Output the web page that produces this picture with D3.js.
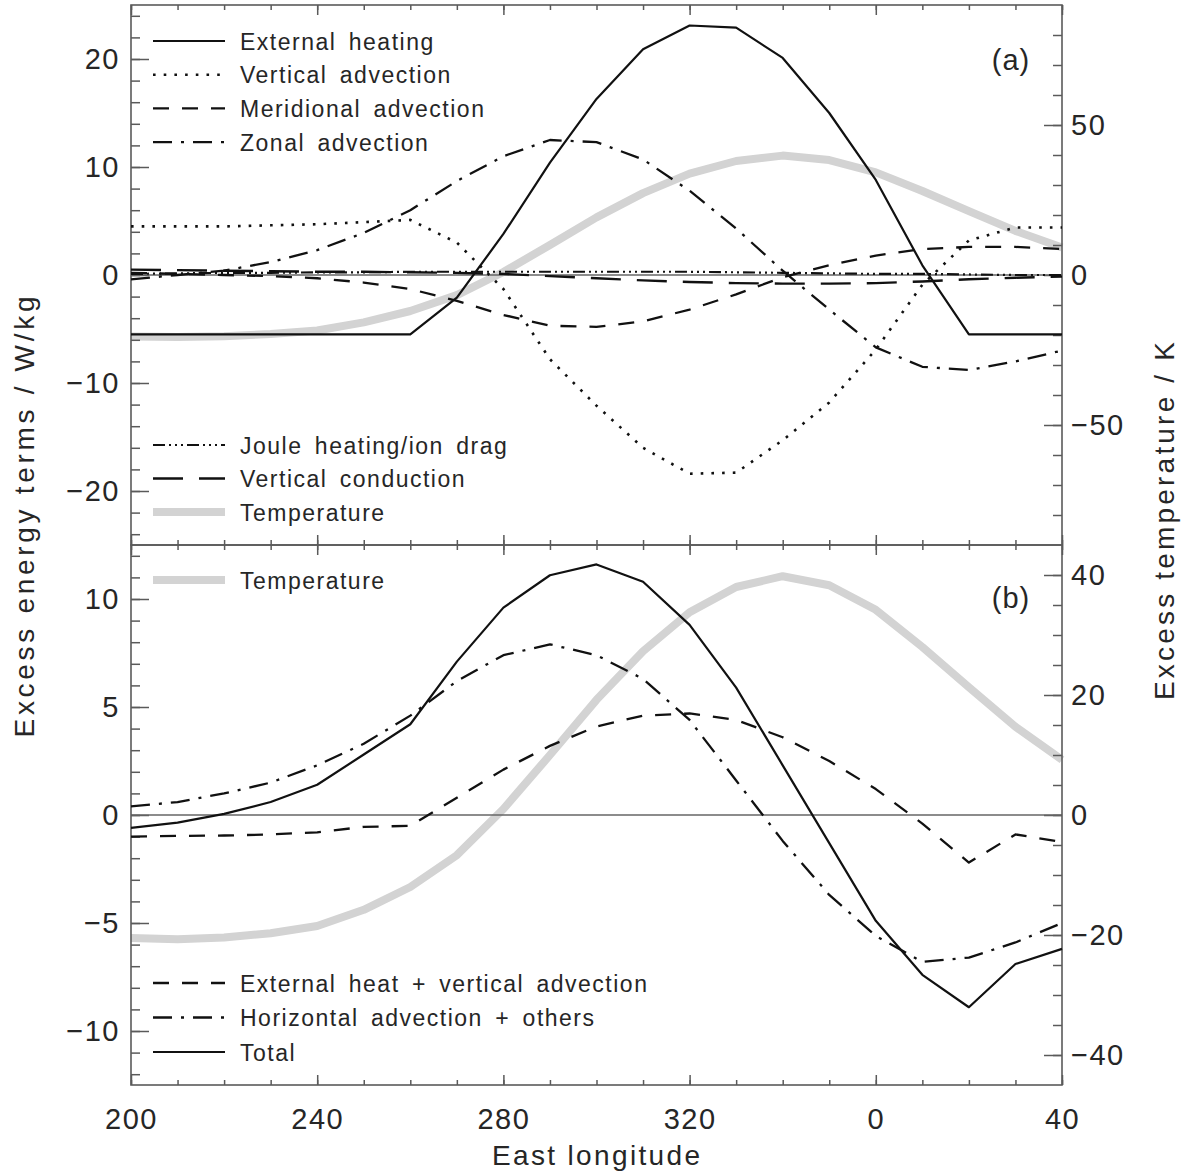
<!DOCTYPE html>
<html><head><meta charset="utf-8">
<script src="https://cdn.jsdelivr.net/npm/d3@7"></script>
<style>
body{margin:0;background:#fff}
svg{display:block}
text{font-family:"Liberation Sans",Arial,sans-serif;fill:#262626}
</style>
</head><body>
<svg id="c" width="1192" height="1173"></svg>
<script>
// ---------------- data ----------------
const longitude = [200,210,220,230,240,250,260,270,280,290,300,310,320,330,340,350,360,370,380,390,400];
const xTickValues = [200,240,280,320,360,400];
const xTickLabels = ["200","240","280","320","0","40"];

// panel (a) W/kg
const externalHeating    = [-5.5,-5.5,-5.5,-5.5,-5.5,-5.5,-5.5,-2.1,3.8,10.4,16.3,20.9,23.1,22.9,20.1,15.0,8.8,0.9,-5.5,-5.5,-5.5];
const verticalAdvection  = [4.5,4.5,4.5,4.6,4.7,4.9,5.1,3.0,-1.3,-7.8,-12.1,-16.0,-18.4,-18.3,-15.3,-11.8,-6.9,-0.9,3.2,4.4,4.4];
const meridionalAdvection= [0.2,0.1,0.0,-0.1,-0.3,-0.7,-1.3,-2.4,-3.7,-4.7,-4.8,-4.3,-3.2,-1.8,-0.2,0.9,1.8,2.4,2.6,2.6,2.4];
const zonalAdvection     = [-0.4,0.0,0.4,1.2,2.3,3.9,6.0,8.7,11.0,12.5,12.3,10.7,7.8,4.3,0.4,-3.2,-6.7,-8.5,-8.8,-8.0,-7.0];
const jouleHeating       = [0.1,0.15,0.2,0.2,0.25,0.25,0.3,0.3,0.3,0.3,0.3,0.3,0.3,0.25,0.2,0.15,0.1,0.1,0.05,0.0,0.0];
const verticalConduction = [0.5,0.45,0.4,0.35,0.3,0.3,0.25,0.2,0.1,-0.1,-0.3,-0.5,-0.65,-0.75,-0.8,-0.8,-0.75,-0.6,-0.4,-0.25,-0.15];
// temperature, K (both panels)
const temperature        = [-20.5,-20.7,-20.4,-19.7,-18.5,-15.8,-12.0,-6.7,1.0,10.0,19.2,27.3,33.8,38.0,39.8,38.3,34.2,28.0,21.3,14.7,9.2];
// panel (b) W/kg
const extHeatPlusVertAdv = [-1.0,-0.97,-0.95,-0.9,-0.8,-0.55,-0.5,0.8,2.1,3.2,4.1,4.6,4.7,4.4,3.6,2.5,1.2,-0.4,-2.2,-0.9,-1.25];
const horizAdvPlusOthers = [0.4,0.6,1.0,1.5,2.3,3.3,4.6,6.2,7.4,7.9,7.4,6.3,4.4,1.6,-1.2,-3.7,-5.6,-6.8,-6.6,-5.9,-5.0];
const totalTerm          = [-0.6,-0.35,0.05,0.6,1.4,2.8,4.2,7.1,9.6,11.1,11.6,10.8,8.8,5.9,2.3,-1.3,-4.9,-7.4,-8.9,-6.9,-6.2];

const topLeftTicks = [-20,-10,0,10,20];
const topLeftLabels = ["−20","−10","0","10","20"];
const topRightTicks = [-50,0,50];
const topRightLabels = ["−50","0","50"];
const botLeftTicks = [-10,-5,0,5,10];
const botLeftLabels = ["−10","−5","0","5","10"];
const botRightTicks = [-40,-20,0,20,40];
const botRightLabels = ["−40","−20","0","20","40"];

// ---------------- drawing ----------------
const svg = d3.select("#c");
const L = 131, R = 1062;
const x = d3.scaleLinear().domain([200,400]).range([L,R]);
const AX = "#5a5a5a";
const INK = "#111";
const GRAY = "#d3d3d3";
const FONT = "Liberation Sans, Arial, sans-serif";

const styles = {
  solid:   {w:2.2, dash:null},
  dotted:  {w:2.6, dash:"2.6,8.1"},
  dashed:  {w:2.3, dash:"16,13"},
  dashdot: {w:2.3, dash:"19,9,3,9"},
  dash3dot:{w:2.2, dash:"12,4,2,4,2,4,2,4"},
  longdash:{w:2.4, dash:"30,16"},
  temp:    {w:8, dash:null, color:GRAY}
};

function makeLine(ys){
  return d3.line().x((d,i)=>x(longitude[i])).y(d=>ys(d));
}
function drawSeries(g, vals, ys, st){
  const s = styles[st];
  g.append("path").datum(vals)
    .attr("d", makeLine(ys))
    .attr("fill","none")
    .attr("stroke", s.color || INK)
    .attr("stroke-width", s.w)
    .attr("stroke-dasharray", s.dash)
    .attr("stroke-linejoin","round");
}

function styleAxis(g){
  g.select(".domain").remove();
  g.selectAll(".tick line").attr("stroke",AX).attr("stroke-width",1.5);
  g.selectAll(".tick text").attr("font-size",29).attr("fill","#262626")
    .attr("font-family",FONT).attr("letter-spacing","1.5px");
}

function drawPanel(y0, y1, yL, yR, lt, ll, lMinor, rt, rl, rMinor){
  const g = svg.append("g");
  const xMinor = d3.range(200,401,10);
  [[d3.axisBottom, y1],[d3.axisTop, y0]].forEach(([fn, yy])=>{
    g.append("g").attr("transform",`translate(0,${yy})`)
      .call(fn(x).tickValues(xMinor).tickSize(-5).tickFormat(""))
      .call(a=>styleAxis(a));
    g.append("g").attr("transform",`translate(0,${yy})`)
      .call(fn(x).tickValues(xTickValues).tickSize(-10).tickFormat(""))
      .call(a=>styleAxis(a));
  });
  g.append("g").attr("transform",`translate(${L},0)`)
    .call(d3.axisLeft(yL).tickValues(lMinor).tickSize(-9).tickFormat(""))
    .call(a=>styleAxis(a));
  g.append("g").attr("transform",`translate(${L},0)`)
    .call(d3.axisLeft(yL).tickValues(lt).tickSize(-18).tickPadding(11).tickFormat((d,i)=>ll[i]))
    .call(a=>styleAxis(a));
  g.append("g").attr("transform",`translate(${R},0)`)
    .call(d3.axisRight(yR).tickValues(rMinor).tickSize(-9).tickFormat(""))
    .call(a=>styleAxis(a));
  g.append("g").attr("transform",`translate(${R},0)`)
    .call(d3.axisRight(yR).tickValues(rt).tickSize(-18).tickPadding(9).tickFormat((d,i)=>rl[i]))
    .call(a=>styleAxis(a));
  g.append("line").attr("x1",L).attr("x2",R).attr("y1",yL(0)).attr("y2",yL(0))
    .attr("stroke","#666").attr("stroke-width",1.3);
  g.append("rect").attr("x",L).attr("y",y0).attr("width",R-L).attr("height",y1-y0)
    .attr("fill","none").attr("stroke",AX).attr("stroke-width",1.6);
  return g;
}

// panel a
const yA = d3.scaleLinear().domain([-25,25]).range([545,5]);
const yAT = d3.scaleLinear().domain([-90,90]).range([545,5]);
const gA = svg.append("g");
drawSeries(gA, temperature, yAT, "temp");
drawPanel(5,545,yA,yAT, topLeftTicks, topLeftLabels, d3.range(-24,25,2),
          topRightTicks, topRightLabels, d3.range(-80,81,10));
const gA2 = svg.append("g");
drawSeries(gA2, verticalConduction, yA, "longdash");
drawSeries(gA2, jouleHeating, yA, "dash3dot");
drawSeries(gA2, meridionalAdvection, yA, "dashed");
drawSeries(gA2, zonalAdvection, yA, "dashdot");
drawSeries(gA2, verticalAdvection, yA, "dotted");
drawSeries(gA2, externalHeating, yA, "solid");

// panel b
const yB = d3.scaleLinear().domain([-12.5,12.5]).range([1085,545]);
const yBT = d3.scaleLinear().domain([-45,45]).range([1085,545]);
const gB = svg.append("g");
drawSeries(gB, temperature, yBT, "temp");
drawPanel(545,1085,yB,yBT, botLeftTicks, botLeftLabels, d3.range(-12,13,1),
          botRightTicks, botRightLabels, d3.range(-40,41,5));
const gB2 = svg.append("g");
drawSeries(gB2, extHeatPlusVertAdv, yB, "dashed");
drawSeries(gB2, horizAdvPlusOthers, yB, "dashdot");
drawSeries(gB2, totalTerm, yB, "solid");

// x tick labels (bottom only)
svg.append("g").attr("transform","translate(0,1085)")
  .call(d3.axisBottom(x).tickValues(xTickValues).tickSize(0).tickPadding(23).tickFormat((d,i)=>xTickLabels[i]))
  .call(a=>{a.select(".domain").remove(); styleAxis(a);});

// legends
function legend(items, y0, dy){
  items.forEach((it,i)=>{
    const yy = y0 + i*dy;
    const s = styles[it[1]];
    svg.append("line").attr("x1",153).attr("x2",225).attr("y1",yy).attr("y2",yy)
      .attr("stroke", s.color || INK).attr("stroke-width", s.w)
      .attr("stroke-dasharray", s.dash);
    svg.append("text").attr("x",240).attr("y",yy+8.5).attr("font-size",23)
      .attr("letter-spacing","1.5px").attr("word-spacing","4.5px").text(it[0]);
  });
}
legend([["External heating","solid"],["Vertical advection","dotted"],
        ["Meridional advection","dashed"],["Zonal advection","dashdot"]], 41, 33.7);
legend([["Joule heating/ion drag","dash3dot"],["Vertical conduction","longdash"],
        ["Temperature","temp"]], 445, 33.5);
legend([["Temperature","temp"]], 580, 34);
legend([["External heat + vertical advection","dashed"],["Horizontal advection + others","dashdot"],
        ["Total","solid"]], 983, 34.5);

// panel labels
svg.append("text").attr("x",1011).attr("y",70).attr("text-anchor","middle").attr("font-size",29).attr("letter-spacing","1px").text("(a)");
svg.append("text").attr("x",1011).attr("y",608).attr("text-anchor","middle").attr("font-size",29).attr("letter-spacing","1px").text("(b)");

// axis titles
svg.append("text").attr("transform","translate(34,517) rotate(-90)").attr("text-anchor","middle")
  .attr("font-size",28).attr("textLength",441).attr("lengthAdjust","spacing").text("Excess energy terms / W/kg");
svg.append("text").attr("transform","translate(1174,521) rotate(-90)").attr("text-anchor","middle")
  .attr("font-size",28).attr("textLength",358).attr("lengthAdjust","spacing").text("Excess temperature / K");
svg.append("text").attr("x",596).attr("y",1165).attr("text-anchor","middle")
  .attr("font-size",28).attr("textLength",208).attr("lengthAdjust","spacing").text("East longitude");
</script>
</body></html>
